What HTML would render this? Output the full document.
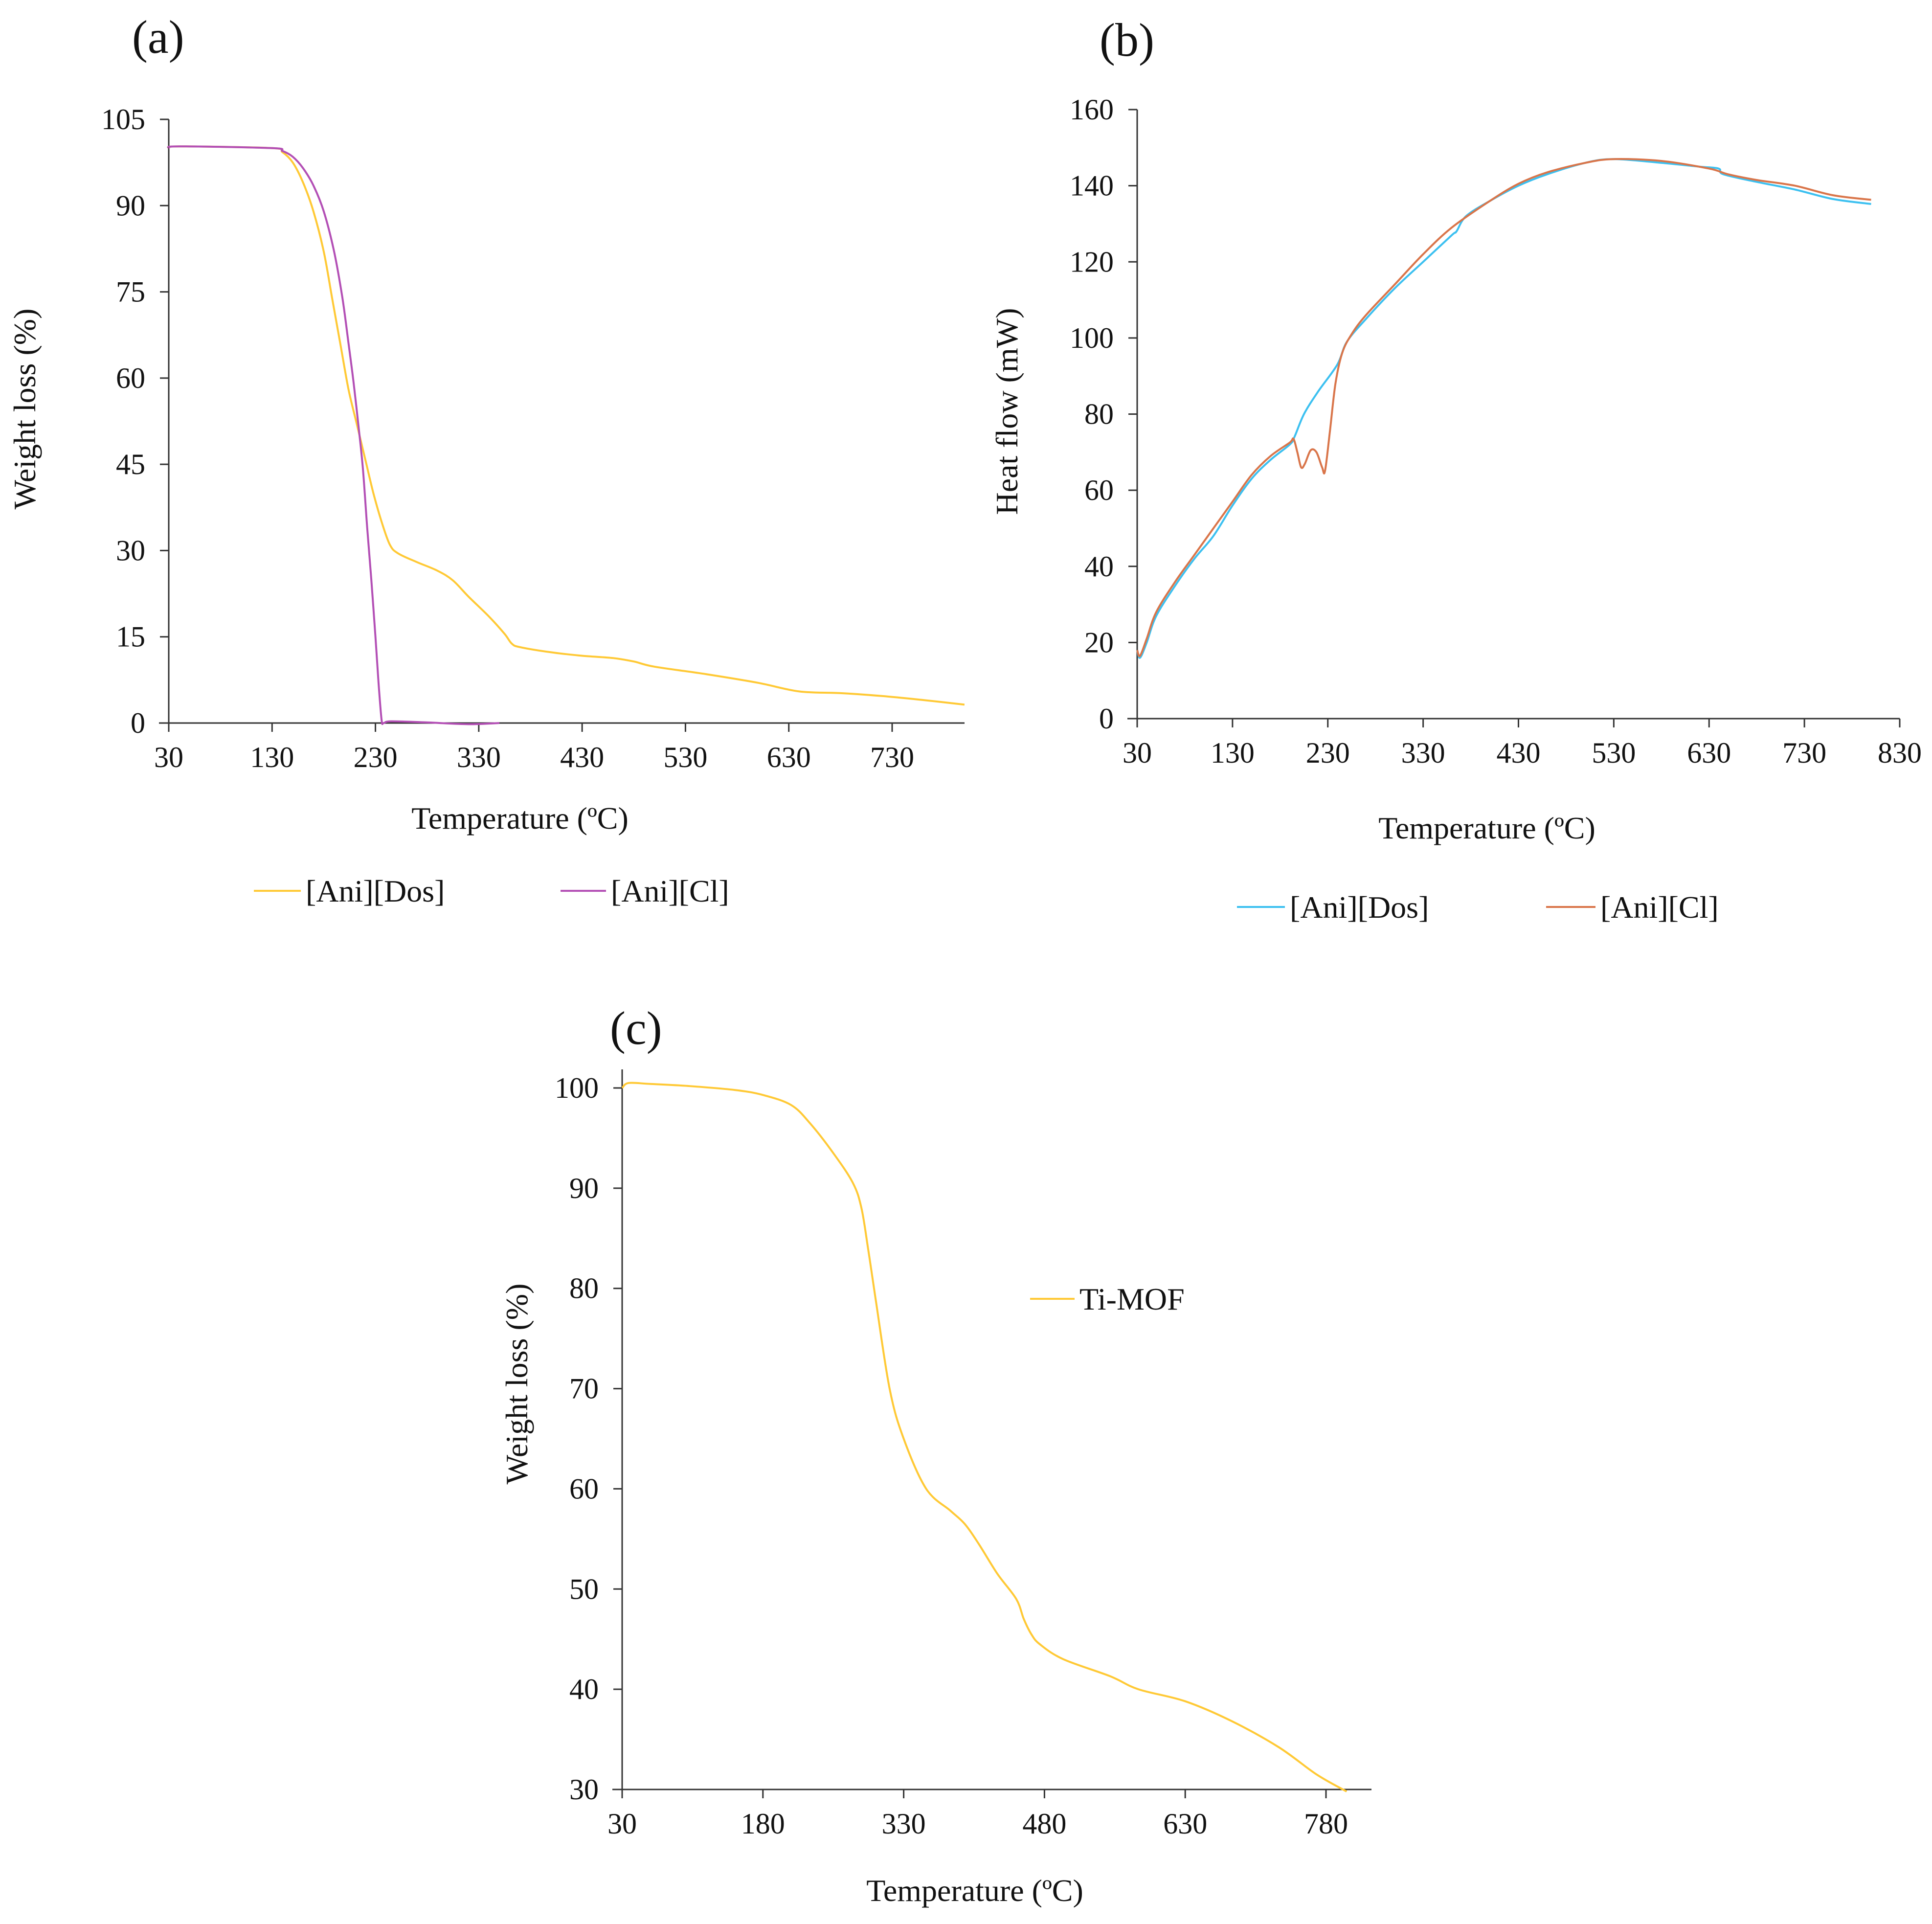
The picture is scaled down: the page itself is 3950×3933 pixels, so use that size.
<!DOCTYPE html>
<html><head><meta charset="utf-8">
<style>
html,body{margin:0;padding:0;background:#fff;}
svg{display:block;}
text{font-family:"Liberation Serif",serif;fill:#111;}
</style></head>
<body>
<svg id="fig" width="3950" height="3933" viewBox="0 0 3950 3933" xmlns="http://www.w3.org/2000/svg" font-family="Liberation Serif, serif"></svg>
<script>
// ---- Panel (a) data ----
const aDosT = [30,40,130,140,150,160,170,180,188,196,204,212,220,228,236,244,252,270,290,305,320,340,355,362,370,400,430,460,480,500,550,600,640,680,720,760,800];
const aDosV = [100,100.3,100,99.3,97.5,94,89,82,74,66,58,52,46,40,35,31,29.5,28,26.5,24.8,22,18.5,15.5,13.8,13.2,12.3,11.7,11.3,10.7,9.8,8.5,7,5.5,5.2,4.7,4,3.2];
const aClT = [30,40,130,140,150,160,170,180,190,198,204,209,214,218,222,226,230,233,236,238,245,280,320,350];
const aClV = [100,100.3,100,99.5,98.5,96.5,93.5,89,82,74,66,59,51,44,34,25,15,7,0.5,0,0.3,0.1,-0.2,0];
const aXTicks = [30,130,230,330,430,530,630,730];
const aYTicks = [0,15,30,45,60,75,90,105];
// ---- Panel (b) data ----
const bDosT = [30,33,40,50,70,90,110,130,150,170,190,195,205,220,240,250,270,300,330,360,365,375,400,430,460,500,530,580,620,640,645,680,720,760,800];
const bDosV = [18,16,20,27,35,42,48,56,63,68,72,74,80,86,93,99,105,113,120,127,128,132,136,140,143,146,147,146,145,144.5,143,141,139,136.5,135.2];
const bClT = [30,33,40,50,70,90,110,130,150,170,190,194,198,202,206,212,218,224,227,232,238,245,255,270,300,330,360,400,430,460,500,530,580,630,650,680,720,760,800];
const bClV = [18,16.5,21,28,36,43,50,57,64,69,72.5,73.5,70,66,67,70.5,70,66,65,75,88,96,101,106,114,122,129,136,140.5,143.5,146,147,146.5,144.5,143,141.5,140,137.5,136.3];
const bXTicks = [30,130,230,330,430,530,630,730,830];
const bYTicks = [0,20,40,60,80,100,120,140,160];
// ---- Panel (c) data ----
const cT = [30,37,60,100,150,180,210,230,255,276,285,292,300,315,330,354,380,395,410,430,450,458,466,475,500,550,580,630,680,730,770,802];
const cV = [100,100.5,100.4,100.2,99.8,99.3,98.3,96.5,93.5,90.5,88,84,79,70,65,60,57.8,56.5,54.5,51.5,49,47,45.5,44.5,43,41.3,40,38.8,36.8,34.2,31.5,29.8];
const cXTicks = [30,180,330,480,630,780];
const cYTicks = [30,40,50,60,70,80,90,100];

const NS = "http://www.w3.org/2000/svg";
const svg = document.getElementById('fig');
function mk(tag, attrs, parent){
  const e = document.createElementNS(NS, tag);
  for (const k in attrs) e.setAttribute(k, attrs[k]);
  (parent||svg).appendChild(e);
  return e;
}
function txt(s, attrs, parent){ const t = mk('text', attrs, parent); t.textContent = s; return t; }
function smooth(pts){
  let d = 'M' + pts[0][0].toFixed(1) + ',' + pts[0][1].toFixed(1);
  for (let i = 0; i < pts.length - 1; i++){
    const p0 = pts[Math.max(0,i-1)], p1 = pts[i], p2 = pts[i+1], p3 = pts[Math.min(pts.length-1,i+2)];
    const c1x = p1[0] + (p2[0]-p0[0])/6, c1y = p1[1] + (p2[1]-p0[1])/6;
    const c2x = p2[0] - (p3[0]-p1[0])/6, c2y = p2[1] - (p3[1]-p1[1])/6;
    d += ' C' + c1x.toFixed(1) + ',' + c1y.toFixed(1) + ' ' + c2x.toFixed(1) + ',' + c2y.toFixed(1) + ' ' + p2[0].toFixed(1) + ',' + p2[1].toFixed(1);
  }
  return d;
}

function panel(cfg){
  const g = mk('g', {});
  
  
  const sx = v => cfg.x0 + (v - cfg.xmin) / (cfg.xmax - cfg.xmin) * (cfg.x1 - cfg.x0);
  const sy = v => cfg.y0 + (v - cfg.ymin) / (cfg.ymax - cfg.ymin) * (cfg.y1 - cfg.y0);
  const ya = mk('line', {x1:cfg.x0, y1:cfg.y0, x2:cfg.x0, y2:cfg.yTop, stroke:'#333', 'stroke-width':3}, g);
  
  
  const xa = mk('line', {x1:cfg.x0 - 20, y1:cfg.y0, x2:cfg.xEnd, y2:cfg.y0, stroke:'#333', 'stroke-width':3}, g);
  
  
  cfg.xt.forEach(v => {
    const X = sx(v);
    mk('line', {x1:X, y1:cfg.y0, x2:X, y2:cfg.y0 + 18, stroke:'#333', 'stroke-width':3}, g);
    const t = txt(String(v), {x:X, y:cfg.y0 + 90, 'font-size':60, 'text-anchor':'middle'}, g);
    
    
  });
  cfg.yt.forEach(v => {
    const Y = sy(v);
    mk('line', {x1:cfg.x0 - 18, y1:Y, x2:cfg.x0, y2:Y, stroke:'#333', 'stroke-width':3}, g);
    const t = txt(String(v), {x:cfg.x0 - 48, y:Y + 20, 'font-size':60, 'text-anchor':'end'}, g);
    
    
  });
  const xt = txt('Temperature (ºC)', {x:cfg.xtx, y:cfg.xty, 'font-size':64, 'text-anchor':'middle'}, g);
  
  
  const yt = txt(cfg.ylabel, {x:0, y:0, 'font-size':64, 'text-anchor':'middle', transform:`translate(${cfg.ytx},${cfg.yty}) rotate(-90)`}, g);
  
  
  const pl = txt(cfg.label, {x:cfg.lx, y:cfg.ly, 'font-size':96}, g);
  
  
  cfg.series.forEach(s => {
    const pts = s.T.map((t,i) => [sx(t), sy(s.V[i])]);
    const p = mk('path', {d:smooth(pts), fill:'none', stroke:s.color, 'stroke-width':4, 'stroke-linejoin':'round'}, g);
    
    
    const le = mk('line', {x1:s.lx1, y1:s.ly, x2:s.lx2, y2:s.ly, stroke:s.color, 'stroke-width':4}, g);
    
    
    const lt = txt(s.name, {x:s.lx2 + 10, y:s.ly + 22, 'font-size':64}, g);
    
    
  });
}

panel({name:'panel-a-chart', label:'(a)', lx:270, ly:108,
  x0:345, x1:1824, xmin:30, xmax:730, xEnd:1972,
  y0:1478, y1:244, ymin:0, ymax:105, yTop:244,
  xt:aXTicks, yt:aYTicks, ylabel:'Weight loss (%)',
  xtx:1063, xty:1694, ytx:72, yty:836,
  series:[
    {id:'ani-dos', name:'[Ani][Dos]', T:aDosT, V:aDosV, color:'#FFC935', lx1:519, lx2:615, ly:1821},
    {id:'ani-cl', name:'[Ani][Cl]', T:aClT, V:aClV, color:'#B34FB5', lx1:1146, lx2:1239, ly:1821}
  ]});

panel({name:'panel-b-chart', label:'(b)', lx:2248, ly:114,
  x0:2325, x1:3884, xmin:30, xmax:830, xEnd:3884,
  y0:1469, y1:224, ymin:0, ymax:160, yTop:224,
  xt:bXTicks, yt:bYTicks, ylabel:'Heat flow (mW)',
  xtx:3040, xty:1714, ytx:2080, yty:841,
  series:[
    {id:'ani-dos', name:'[Ani][Dos]', T:bDosT, V:bDosV, color:'#3CC0F0', lx1:2529, lx2:2627, ly:1854},
    {id:'ani-cl', name:'[Ani][Cl]', T:bClT, V:bClV, color:'#D9754A', lx1:3161, lx2:3262, ly:1854}
  ]});

panel({name:'panel-c-chart', label:'(c)', lx:1247, ly:2134,
  x0:1272, x1:2711, xmin:30, xmax:780, xEnd:2804,
  y0:3658, y1:2224, ymin:30, ymax:100, yTop:2186,
  xt:cXTicks, yt:cYTicks, ylabel:'Weight loss (%)',
  xtx:1993, xty:3886, ytx:1078, yty:2829,
  series:[
    {id:'ti-mof', name:'Ti-MOF', T:cT, V:cV, color:'#FFC935', lx1:2106, lx2:2197, ly:2655}
  ]});
</script>
</body></html>
